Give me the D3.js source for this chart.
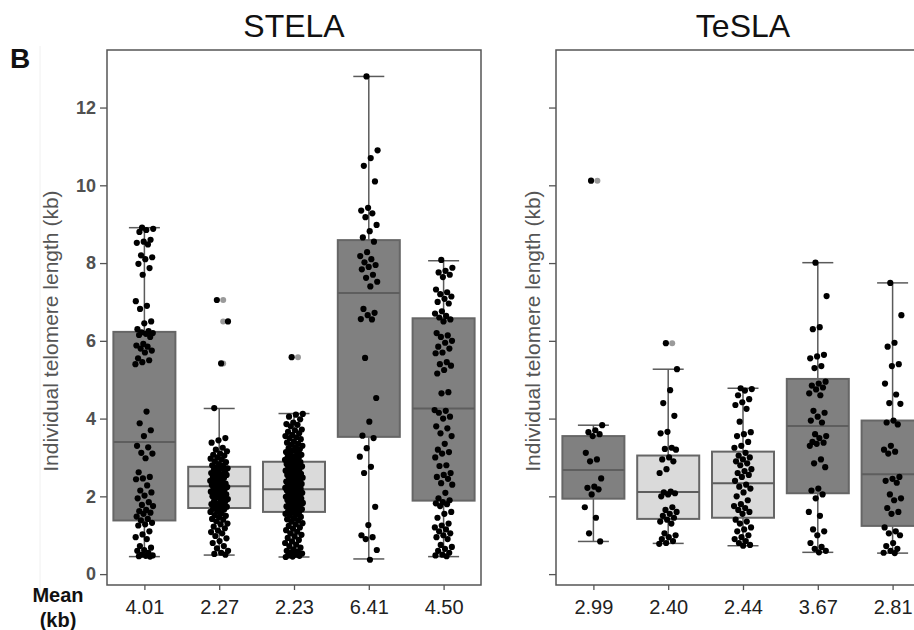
<!DOCTYPE html>
<meta charset="utf-8">
<style>
body { margin: 0; background: #fff; }
svg { font-family: "Liberation Sans", Arial, Helvetica, sans-serif; }
.frame { fill: none; stroke: #555; stroke-width: 1.5px; }
.tick line { stroke: #555; stroke-width: 1.3px; }
.yax .tick text { fill: #505050; font-size: 18px; font-weight: bold; }
.xax .tick text { fill: #222; font-size: 20px; }
.whisker { stroke: #5a5a5a; stroke-width: 1.5px; }
.box { stroke: #666; stroke-width: 2px; }
.median { stroke: #5e5e5e; stroke-width: 2px; }
.dot { fill: #000; }
.outlier { fill: #9a9a9a; }
</style>
<body>
<script src="https://cdn.jsdelivr.net/npm/d3@7"></script>
<script>

// mean telomere length per group (x tick labels)
var stelaMeans = ["4.01", "2.27", "2.23", "6.41", "4.50"],
    teslaMeans = ["2.99", "2.40", "2.44", "3.67", "2.81"];

// box shading per group: dark or light
var shade = ["dark", "light", "light", "dark", "dark"];

// box stats: [lower whisker, q1, median, q3, upper whisker]
var stelaBoxes = [
  [0.45, 1.38, 3.40, 6.23, 8.91],
  [0.49, 1.70, 2.26, 2.76, 4.26],
  [0.44, 1.60, 2.18, 2.89, 4.13],
  [0.39, 3.53, 7.23, 8.59, 12.8],
  [0.45, 1.89, 4.26, 6.58, 8.06]
];
var teslaBoxes = [
  [0.84, 1.94, 2.68, 3.55, 3.83],
  [0.79, 1.42, 2.11, 3.05, 5.27],
  [0.73, 1.45, 2.34, 3.15, 4.78],
  [0.56, 2.08, 3.81, 5.02, 8.01],
  [0.54, 1.24, 2.57, 3.95, 7.49]
];

var stelaOutliers = [[], [7.05, 6.5, 5.42], [5.58], [], []],
    teslaOutliers = [[10.12], [5.94], [], [], []];

// individual telomere lengths (kb)
var stela1 = [8.91, 8.88, 8.85, 8.8, 8.6, 8.55, 8.52, 8.48, 8.2, 8.15, 8.1, 7.98, 7.87, 7.7, 7.02, 6.9, 6.82, 6.5, 6.45,
  6.3, 6.25, 6.22, 6.2, 6.18, 6.15, 6.1, 5.92, 5.88, 5.85, 5.8, 5.75, 5.7, 5.55, 5.5, 5.45, 5.4, 4.18, 3.88, 3.7, 3.55,
  3.3, 3.26, 3.12, 3.1, 2.98, 2.62, 2.5, 2.46, 2.44, 2.28, 2.15, 2.1, 2.02, 1.95, 1.85, 1.78, 1.75, 1.65, 1.62, 1.58,
  1.55, 1.48, 1.42, 1.38, 1.32, 1.28, 1.25, 1.1, 1.02, 0.95, 0.9, 0.72, 0.68, 0.62, 0.6, 0.55, 0.5, 0.48, 0.47, 0.46, 0.45];
var stela2 = [7.05, 6.5, 5.42, 4.27, 3.5, 3.44, 3.38, 3.25, 3.2, 3.16, 3.1, 3.07, 3.05, 3.0, 2.97, 2.95, 2.9, 2.88, 2.83,
  2.8, 2.79, 2.75, 2.72, 2.71, 2.68, 2.66, 2.62, 2.6, 2.57, 2.55, 2.55, 2.5, 2.48, 2.47, 2.44, 2.4, 2.38, 2.37, 2.33, 2.3,
  2.29, 2.27, 2.25, 2.24, 2.2, 2.18, 2.17, 2.15, 2.12, 2.1, 2.08, 2.05, 2.02, 2.0, 1.98, 1.97, 1.93, 1.9, 1.88, 1.86,
  1.82, 1.8, 1.77, 1.75, 1.73, 1.7, 1.68, 1.66, 1.62, 1.6, 1.56, 1.52, 1.5, 1.47, 1.42, 1.4, 1.36, 1.3, 1.28, 1.22, 1.18,
  1.12, 1.08, 1.05, 0.98, 0.92, 0.85, 0.8, 0.72, 0.66, 0.6, 0.55, 0.52, 0.5];
var stela3 = [5.58, 4.12, 4.1, 4.05, 3.98, 3.9, 3.86, 3.84, 3.8, 3.72, 3.7, 3.66, 3.62, 3.58, 3.55, 3.52, 3.5, 3.47, 3.41,
  3.38, 3.35, 3.33, 3.3, 3.26, 3.24, 3.21, 3.18, 3.14, 3.12, 3.1, 3.07, 3.03, 3.01, 2.99, 2.97, 2.94, 2.91, 2.9, 2.88,
  2.86, 2.83, 2.8, 2.78, 2.77, 2.75, 2.73, 2.7, 2.67, 2.66, 2.64, 2.61, 2.58, 2.56, 2.55, 2.53, 2.51, 2.48, 2.45, 2.44,
  2.43, 2.41, 2.38, 2.36, 2.33, 2.32, 2.31, 2.29, 2.27, 2.25, 2.22, 2.21, 2.2, 2.19, 2.17, 2.15, 2.13, 2.1, 2.09, 2.08,
  2.06, 2.03, 2.01, 1.99, 1.97, 1.95, 1.94, 1.92, 1.9, 1.88, 1.85, 1.83, 1.82, 1.81, 1.79, 1.76, 1.74, 1.72, 1.69, 1.67,
  1.65, 1.62, 1.6, 1.58, 1.55, 1.53, 1.5, 1.47, 1.44, 1.41, 1.38, 1.35, 1.31, 1.28, 1.24, 1.2, 1.17, 1.13, 1.09, 1.05,
  1.01, 0.97, 0.93, 0.88, 0.84, 0.8, 0.76, 0.72, 0.68, 0.64, 0.6, 0.58, 0.56, 0.53, 0.5, 0.48, 0.47, 0.45, 0.44];
var stela4 = [12.8, 10.9, 10.7, 10.5, 10.1, 9.42, 9.35, 9.28, 9.18, 8.98, 8.82, 8.66, 8.55, 8.28, 8.18, 8.1, 8.02, 7.95,
  7.9, 7.84, 7.7, 7.62, 7.52, 7.4, 6.82, 6.72, 6.66, 6.56, 6.55, 5.56, 4.53, 3.92, 3.56, 3.5, 3.24, 3.02, 2.76, 2.6, 1.73,
  1.26, 1.0, 0.95, 0.9, 0.62, 0.37];
var stela5 = [8.08, 7.88, 7.8, 7.76, 7.7, 7.64, 7.32, 7.25, 7.2, 7.14, 7.08, 7.0, 6.96, 6.76, 6.7, 6.64, 6.6, 6.55, 6.5,
  6.2, 6.14, 6.1, 6.0, 5.95, 5.85, 5.8, 5.7, 5.68, 5.45, 5.4, 5.36, 5.25, 5.16, 4.68, 4.65, 4.22, 4.2, 4.15, 4.05, 4.0,
  3.8, 3.75, 3.62, 3.55, 3.35, 3.2, 3.14, 3.1, 3.0, 2.8, 2.78, 2.6, 2.55, 2.5, 2.45, 2.34, 2.3, 2.09, 1.95, 1.9, 1.85,
  1.82, 1.8, 1.75, 1.6, 1.55, 1.45, 1.3, 1.25, 1.2, 1.15, 1.1, 1.05, 1.0, 0.95, 0.9, 0.75, 0.7, 0.65, 0.6, 0.55, 0.5,
  0.48, 0.46];

var tesla1 = [10.12, 3.83, 3.7, 3.65, 3.6, 3.55, 3.12, 2.95, 2.9, 2.46, 2.25, 2.22, 2.18, 2.05, 1.72, 1.45, 1.05, 0.84];
var tesla2 = [5.94, 5.27, 4.73, 4.4, 4.07, 3.66, 3.62, 3.25, 3.22, 3.2, 3.0, 2.95, 2.9, 2.7, 2.6, 2.12, 2.1, 2.08, 2.05,
  2.0, 1.72, 1.65, 1.6, 1.55, 1.5, 1.45, 1.4, 1.35, 1.3, 1.05, 1.0, 0.95, 0.9, 0.85, 0.8, 0.78];
var tesla3 = [4.78, 4.76, 4.72, 4.6, 4.5, 4.42, 4.35, 4.25, 3.92, 3.65, 3.6, 3.55, 3.4, 3.3, 3.25, 3.12, 3.05, 3.0, 2.95,
  2.9, 2.85, 2.8, 2.7, 2.65, 2.6, 2.55, 2.5, 2.4, 2.3, 2.25, 2.2, 2.1, 2.0, 1.9, 1.8, 1.75, 1.7, 1.65, 1.6, 1.55, 1.4,
  1.35, 1.3, 1.2, 1.15, 1.1, 1.0, 0.95, 0.9, 0.85, 0.8, 0.75, 0.73];
var tesla4 = [8.01, 7.15, 6.35, 6.3, 5.64, 5.6, 5.55, 5.35, 5.3, 4.95, 4.9, 4.85, 4.8, 4.75, 4.65, 4.6, 4.2, 4.15, 4.05,
  3.95, 3.9, 3.6, 3.55, 3.5, 3.4, 3.38, 3.35, 3.3, 2.95, 2.85, 2.75, 2.2, 2.15, 2.05, 1.95, 1.6, 1.5, 1.15, 1.1, 1.0, 0.8,
  0.7, 0.65, 0.6, 0.56];
var tesla5 = [7.49, 6.66, 5.95, 5.85, 5.4, 5.35, 4.9, 4.62, 4.4, 4.38, 3.95, 3.9, 3.85, 3.3, 3.2, 3.15, 3.1, 2.5, 2.45,
  2.4, 2.35, 2.05, 1.95, 1.9, 1.7, 1.6, 1.55, 1.2, 1.1, 1.05, 1.0, 0.8, 0.72, 0.65, 0.6, 0.55, 0.54];

var yTicks = [0, 2, 4, 6, 8, 10, 12];

var width = 914, height = 630;

var svg = d3.select("body").append("svg")
    .attr("width", width)
    .attr("height", height);

var y = d3.scaleLinear().domain([-0.28, 13.48]).range([585, 50]);

// faint figure border at far left
svg.append("line")
    .attr("x1", 40).attr("x2", 40).attr("y1", 46).attr("y2", 605)
    .attr("stroke", "#f0f0f0");

// fixed pseudo-jitter (replaces ggplot's random jitter)
function jit(i) { return (((i * 0.6180339887 + 0.37) % 1) - 0.5) * 18; }

function panel(left, title, means, boxes, outliers, points, labels) {
  var x = d3.scalePoint().domain(d3.range(5)).range([left, left + 374]).padding(0.5);
  var g = svg.append("g");
  var bw = 62;

  g.append("text")
      .attr("x", left + 187).attr("y", 37)
      .attr("text-anchor", "middle")
      .style("font-size", "32px").attr("fill", "#111")
      .text(title);

  var yax = g.append("g").attr("class", "yax")
      .attr("transform", "translate(" + left + ",0)")
      .call(d3.axisLeft(y).tickValues(yTicks).tickSize(7).tickPadding(4)
        .tickFormat(labels ? d3.format("d") : ""));
  yax.select(".domain").remove();

  var xax = g.append("g").attr("class", "xax")
      .attr("transform", "translate(0,585)")
      .call(d3.axisBottom(x).tickSize(5).tickPadding(10).tickFormat(function(i) { return means[i]; }));
  xax.select(".domain").remove();

  g.append("text")
      .attr("transform", "translate(" + (left - (labels ? 49 : 16)) + "," + y(6.25) + ") rotate(-90)")
      .attr("text-anchor", "middle")
      .style("font-size", "21px").attr("fill", "#555")
      .text("Individual telomere length (kb)");

  var grp = g.selectAll(".grp").data(boxes).enter().append("g")
      .attr("transform", function(d, i) { return "translate(" + x(i) + ",0)"; });

  grp.append("line").attr("class", "whisker")
      .attr("y1", function(d) { return y(d[0]); }).attr("y2", function(d) { return y(d[4]); });
  grp.append("line").attr("class", "whisker")
      .attr("x1", -bw / 4).attr("x2", bw / 4)
      .attr("y1", function(d) { return y(d[4]); }).attr("y2", function(d) { return y(d[4]); });
  grp.append("line").attr("class", "whisker")
      .attr("x1", -bw / 4).attr("x2", bw / 4)
      .attr("y1", function(d) { return y(d[0]); }).attr("y2", function(d) { return y(d[0]); });
  grp.append("rect").attr("class", "box")
      .attr("x", -bw / 2).attr("width", bw)
      .attr("y", function(d) { return y(d[3]); })
      .attr("height", function(d) { return y(d[1]) - y(d[3]); })
      .attr("fill", function(d, i) { return shade[i] == "dark" ? "#808080" : "#dadada"; });
  grp.append("line").attr("class", "median")
      .attr("x1", -bw / 2).attr("x2", bw / 2)
      .attr("y1", function(d) { return y(d[2]); }).attr("y2", function(d) { return y(d[2]); });

  grp.each(function(d, i) {
    d3.select(this).selectAll(".outlier").data(outliers[i]).enter().append("circle")
        .attr("class", "outlier").attr("r", 3)
        .attr("cx", 4).attr("cy", function(v) { return y(v); });
    d3.select(this).selectAll(".dot").data(points[i]).enter().append("circle")
        .attr("class", "dot").attr("r", 3.1)
        .attr("cx", function(v, k) { return jit(k); })
        .attr("cy", function(v) { return y(v); });
  });

  g.append("rect").attr("class", "frame")
      .attr("x", left).attr("y", 50).attr("width", 374).attr("height", 535);
}

panel(107, "STELA", stelaMeans, stelaBoxes, stelaOutliers, [stela1, stela2, stela3, stela4, stela5], true);
panel(556, "TeSLA", teslaMeans, teslaBoxes, teslaOutliers, [tesla1, tesla2, tesla3, tesla4, tesla5], false);

svg.append("text").attr("x", 10).attr("y", 68)
    .style("font-size", "28px").style("font-weight", "bold").attr("fill", "#111")
    .text("B");

svg.append("text").attr("x", 58).attr("y", 602).attr("text-anchor", "middle")
    .style("font-size", "20px").style("font-weight", "bold").attr("fill", "#111")
    .text("Mean");
svg.append("text").attr("x", 58).attr("y", 627).attr("text-anchor", "middle")
    .style("font-size", "20px").style("font-weight", "bold").attr("fill", "#111")
    .text("(kb)");

</script>
</body>
</html>
